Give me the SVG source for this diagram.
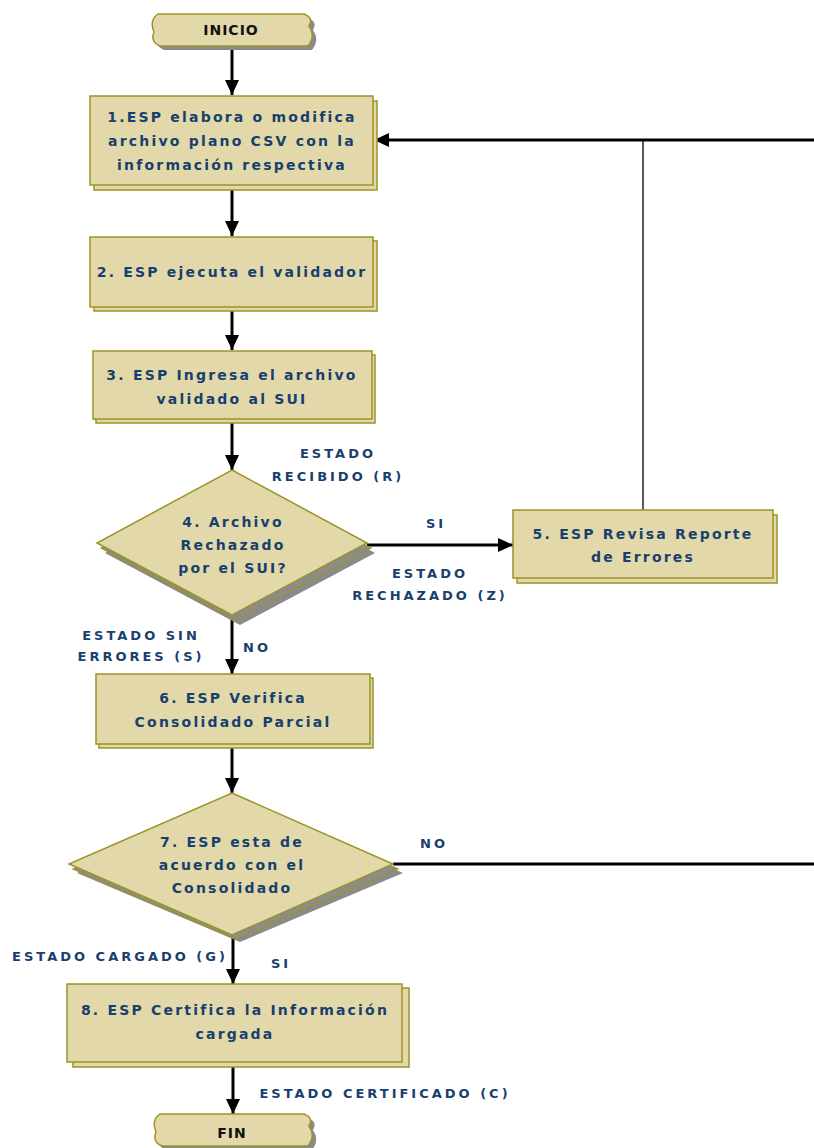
<svg xmlns="http://www.w3.org/2000/svg" width="814" height="1148" viewBox="0 0 814 1148">
<style>
.box{fill:#e2d8aa;stroke:#9b9426;stroke-width:1.5}
.back{fill:#8c8c8c;stroke:#9b9426;stroke-width:1.2}
.shadow{fill:#8a8a8a}
.t{font-family:"DejaVu Sans",sans-serif;font-weight:bold;font-size:14px;fill:#17406d;letter-spacing:2.2px;text-anchor:middle}
.lbl{font-family:"DejaVu Sans",sans-serif;font-weight:bold;font-size:13px;fill:#17406d;letter-spacing:3px;text-anchor:middle}
.term{font-family:"DejaVu Sans",sans-serif;font-weight:bold;font-size:14px;fill:#111;letter-spacing:1px;text-anchor:middle}
.ln{fill:none;stroke:#000;stroke-width:3}
.thin{fill:none;stroke:#000;stroke-width:1.3}
</style>
<defs>
<marker id="ah" markerUnits="userSpaceOnUse" markerWidth="16" markerHeight="16" refX="15" refY="7" orient="auto">
<path d="M0,0 L15,7 L0,14 Z" fill="#000"/>
</marker>
</defs>
<rect width="814" height="1148" fill="#fff"/>

<g id="connectors">
<path class="ln" d="M232,48 V95" marker-end="url(#ah)"/>
<path class="ln" d="M232,185 V236" marker-end="url(#ah)"/>
<path class="ln" d="M232,307 V350" marker-end="url(#ah)"/>
<path class="ln" d="M232,418 V470" marker-end="url(#ah)"/>
<path class="ln" d="M367,545 H513" marker-end="url(#ah)"/>
<path class="ln" d="M232,615 V674" marker-end="url(#ah)"/>
<path class="ln" d="M232,744 V793" marker-end="url(#ah)"/>
<path class="ln" d="M233,935 V984" marker-end="url(#ah)"/>
<path class="ln" d="M233,1062 V1114" marker-end="url(#ah)"/>
<path class="ln" d="M814,140 H374" marker-end="url(#ah)"/>
<path class="thin" d="M643,140 V510"/>
<path class="ln" d="M393,864 H814"/>
</g>

<g id="inicio">
<path class="shadow" d="M162,18 H308 Q318,22 313,30 Q320,40 312,50 H164 Q154,46 158,36 Q153,24 162,18 Z"/>
<path class="box" d="M158,14 H304 Q314,18 309,26 Q316,36 308,46 H160 Q150,42 154,32 Q149,20 158,14 Z"/>
<text class="term" x="231" y="35">INICIO</text>
</g>

<g id="n1">
<rect class="box" x="94" y="101" width="283" height="89"/>
<rect class="box" x="90" y="96" width="283" height="89"/>
<text class="t" x="232" y="122">1.ESP elabora o modifica</text>
<text class="t" x="232" y="146">archivo plano CSV con la</text>
<text class="t" x="232" y="170">información respectiva</text>
</g>

<g id="n2">
<rect class="box" x="94" y="241" width="283" height="70"/>
<rect class="box" x="90" y="237" width="283" height="70"/>
<text class="t" x="232" y="277">2. ESP ejecuta el validador</text>
</g>

<g id="n3">
<rect class="box" x="96" y="355" width="279" height="68"/>
<rect class="box" x="93" y="351" width="279" height="68"/>
<text class="t" x="232" y="380">3. ESP Ingresa el archivo</text>
<text class="t" x="232" y="404">validado al SUI</text>
</g>

<g id="n4">
<path class="shadow" d="M240,480 L375,553 L240,625 L105,553 Z"/>
<path class="back" d="M236,475 L371,548 L236,620 L101,548 Z"/>
<path class="box" d="M232,470 L367,543 L232,615 L97,543 Z"/>
<text class="t" x="233" y="527">4. Archivo</text>
<text class="t" x="233" y="550">Rechazado</text>
<text class="t" x="233" y="573">por el SUI?</text>
</g>

<g id="n5">
<rect class="box" x="517" y="515" width="260" height="68"/>
<rect class="box" x="513" y="510" width="260" height="68"/>
<text class="t" x="643" y="539">5. ESP Revisa Reporte</text>
<text class="t" x="643" y="562">de Errores</text>
</g>

<g id="n6">
<rect class="box" x="99" y="678" width="274" height="70"/>
<rect class="box" x="96" y="674" width="274" height="70"/>
<text class="t" x="233" y="703">6. ESP Verifica</text>
<text class="t" x="233" y="727">Consolidado Parcial</text>
</g>

<g id="n7">
<path class="shadow" d="M240,802 L403,873 L240,942 L77,873 Z"/>
<path class="back" d="M236,798 L398,869 L236,939 L73,869 Z"/>
<path class="box" d="M232,793 L393,864 L232,935 L69,864 Z"/>
<text class="t" x="232" y="847">7. ESP esta de</text>
<text class="t" x="232" y="870">acuerdo con el</text>
<text class="t" x="232" y="893">Consolidado</text>
</g>

<g id="n8">
<rect class="box" x="73" y="988" width="336" height="79"/>
<rect class="box" x="67" y="984" width="335" height="78"/>
<text class="t" x="235" y="1015">8. ESP Certifica la Información</text>
<text class="t" x="235" y="1039">cargada</text>
</g>

<g id="fin">
<path class="shadow" d="M164,1118 H308 Q318,1122 313,1130 Q320,1140 312,1150 H166 Q156,1146 160,1136 Q155,1124 164,1118 Z"/>
<path class="box" d="M160,1114 H304 Q314,1118 309,1126 Q316,1136 308,1146 H162 Q152,1142 156,1132 Q151,1120 160,1114 Z"/>
<text class="term" x="232" y="1138">FIN</text>
</g>

<g id="labels">
<text class="lbl" x="338" y="458">ESTADO</text>
<text class="lbl" x="338" y="481">RECIBIDO (R)</text>
<text class="lbl" x="436" y="528">SI</text>
<text class="lbl" x="430" y="578">ESTADO</text>
<text class="lbl" x="430" y="600">RECHAZADO (Z)</text>
<text class="lbl" x="141" y="640">ESTADO SIN</text>
<text class="lbl" x="141" y="661">ERRORES (S)</text>
<text class="lbl" x="257" y="652">NO</text>
<text class="lbl" x="434" y="848">NO</text>
<text class="lbl" x="120" y="961">ESTADO CARGADO (G)</text>
<text class="lbl" x="281" y="968">SI</text>
<text class="lbl" x="385" y="1098">ESTADO CERTIFICADO (C)</text>
</g>
</svg>
